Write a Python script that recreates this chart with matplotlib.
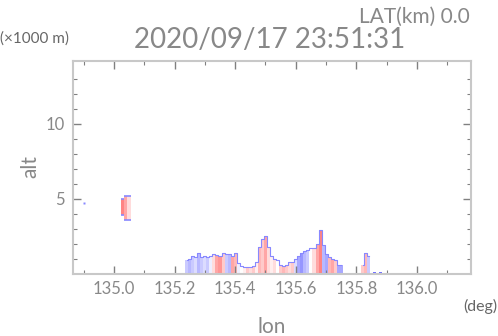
import numpy as np
import matplotlib.pyplot as plt
from matplotlib.colors import LinearSegmentedColormap, Normalize

plt.rcParams['font.family'] = ['Lato', 'DejaVu Sans']
plt.rcParams['font.weight'] = 'normal'

# main low-level echo, one column per 0.01 deg
main_lon = np.round(np.arange(135.24, 135.755, 0.01), 2)
main_top = [0.9, 1.0, 1.2, 1.1, 1.4, 1.1, 1.2, 1.15, 1.2, 1.3,
            1.25, 1.2, 1.4, 1.3, 1.35, 1.2, 1.4, 0.7, 0.5, 0.45,
            0.45, 0.45, 0.5, 0.8, 1.8, 2.3, 2.5, 1.8, 1.2, 1.0,
            0.9, 0.6, 0.5, 0.6, 0.8, 0.8, 1.0, 1.2, 1.4, 1.5,
            1.6, 1.7, 1.7, 2.0, 2.9, 1.9, 1.3, 1.1, 1.0, 0.9,
            0.6, 0.6]
main_vel = [-0.3, -0.4, -0.3, -0.2, -0.4, -0.3, -0.2, -0.3, -0.1, 0.2,
            0.5, 0.6, 0.3, -0.3, -0.4, 0.5, 0.4, -0.1, 0.0, 0.1,
            0.3, 0.2, 0.3, 0.1, 0.4, 0.3, 0.5, 0.2, 0.1, 0.2,
            0.0, 0.3, 0.4, 0.3, 0.2, 0.3, -0.2, -0.5, -0.6, -0.4,
            -0.3, 0.0, 0.2, 0.5, 0.7, -0.4, -0.5, 0.4, 0.5, 0.3,
            -0.5, -0.5]

small_lon = [135.82, 135.83, 135.84, 135.86, 135.88]
small_top = [0.6, 1.4, 1.2, 0.15, 0.15]
small_vel = [0.3, 0.4, -0.3, -0.8, -0.8]

# elevated echo near 135.0
high_lon = [135.03, 135.04, 135.05]
high_bot = [3.9, 3.6, 3.6]
high_top = [5.0, 5.2, 5.2]
high_vel = [0.7, 0.5, 0.2]

dot_lon = [134.90]
dot_alt = [4.7]

xticks = [135.0, 135.2, 135.4, 135.6, 135.8, 136.0]
xticklabels = ['135.0', '135.2', '135.4', '135.6', '135.8', '136.0']
yticks = [5, 10]

cmap = LinearSegmentedColormap.from_list('vel', ['#5050ff', '#ffffff', '#ff5050'])
norm = Normalize(-1, 1)
edge = '#8888ff'
grey = '#888888'

fig = plt.figure(figsize=(4.98, 3.36), dpi=100)
ax = fig.add_axes([0.147, 0.1845, 0.799, 0.6325])

w = 0.01
ax.bar(main_lon, main_top, width=w, bottom=0, color=cmap(norm(main_vel)), linewidth=0)
ax.step(main_lon, main_top, where='mid', color=edge, lw=0.8)
ax.bar(small_lon, small_top, width=w, bottom=0, color=cmap(norm(small_vel)), linewidth=0)
ax.step(small_lon[:3], small_top[:3], where='mid', color=edge, lw=0.8)
hb = np.array(high_bot)
ht = np.array(high_top)
ax.bar(high_lon, ht - hb, width=w, bottom=hb, color=cmap(norm(high_vel)), linewidth=0)
ax.hlines(ht, np.array(high_lon) - w / 2, np.array(high_lon) + w / 2, color=edge, lw=1.2)
ax.hlines(hb, np.array(high_lon) - w / 2, np.array(high_lon) + w / 2, color=edge, lw=1.2)
ax.plot(dot_lon, dot_alt, ls='none', marker='s', ms=1.5, color=edge, mec='none')

ax.set_xlim(134.866, 136.178)
ax.set_ylim(0, 14.15)
ax.set_xticks(xticks)
ax.set_xticklabels(xticklabels)
ax.set_xticks(np.arange(134.9, 136.15, 0.1), minor=True)
ax.set_yticks(yticks)
ax.set_yticks(np.arange(1, 14), minor=True)
ax.tick_params(which='both', direction='in', top=True, right=True, color='#808080')
ax.tick_params(which='major', length=6, width=1, labelsize=12, labelcolor=grey)
ax.tick_params(which='minor', length=3, width=0.8)
ax.tick_params(axis='x', pad=5)
ax.tick_params(axis='y', pad=6)
for s in ax.spines.values():
    s.set_color('#c8c8c8')
    s.set_linewidth(1.5)

fig.text(0.542, 0.881, '2020/09/17 23:51:31', ha='center', va='center', fontsize=20, color=grey)
fig.text(0.944, 0.949, 'LAT(km) 0.0', ha='right', va='center', fontsize=15, color=grey)
fig.text(0.0, 0.884, '(\u00d71000 m)', ha='left', va='center', fontsize=11, color='#666666')
fig.text(0.06, 0.503, 'alt', ha='center', va='center', rotation=90, fontsize=15, color=grey)
fig.text(0.998, 0.089, '(deg)', ha='right', va='center', fontsize=11.5, color='#666666')
fig.text(0.546, 0.028, 'lon', ha='center', va='center', fontsize=15, color=grey)

fig.savefig('out.png', dpi=100)
